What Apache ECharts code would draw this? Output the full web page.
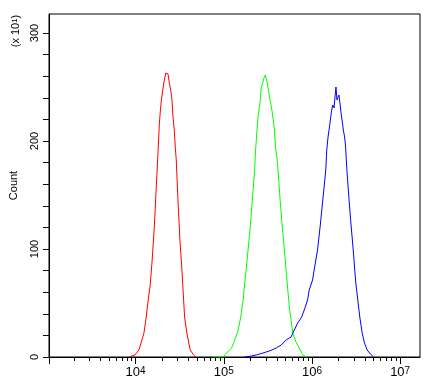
<!DOCTYPE html>
<html>
<head>
<meta charset="utf-8">
<script src="https://cdn.jsdelivr.net/npm/echarts@6/dist/echarts.min.js"></script>
<style>html,body{margin:0;padding:0;background:#fff}#c{width:439px;height:387px}</style>
</head>
<body>
<div id="c"></div>
<script>
// Fluorescence intensity (x, log scale) and counts (y, in units of 10^1)
const redX = [8430, 9840, 10920, 12430, 13190, 13900, 14640, 15410, 16230, 17540, 18000, 18620, 19110, 19610, 20330, 20870, 21410, 21980, 22730, 23320, 24120, 25010, 25870, 26550, 27460, 28180, 28920, 29220, 30220, 31820, 33520, 35030, 35950, 38160, 41570, 45390, 48180];
const redY = [0, 1.9, 6.5, 22.2, 37, 52.8, 66.7, 89.8, 117.6, 173.1, 191.7, 216.7, 228.7, 238, 247.2, 253.7, 258.3, 263, 263.9, 262, 253.7, 247.2, 238, 222.2, 210.2, 194.4, 182.4, 173.1, 145.4, 108.3, 80.6, 52.8, 37, 22.2, 6.5, 1.9, 0];

const greenX = [76180, 98720, 107500, 122400, 133300, 145600, 155700, 165700, 172700, 180500, 188600, 200200, 210900, 223700, 229600, 238100, 244300, 250700, 259300, 266100, 278100, 285400, 295200, 303000, 310900, 321600, 330000, 338700, 351200, 363300, 375700, 385600, 399800, 410300, 435500, 458600, 486800, 508700, 531600, 554100, 579000, 605000, 659200, 717800, 784100, 876200];
const greenY = [0, 0, 3.7, 8.3, 15.7, 25, 37, 52.8, 68.5, 83.3, 99.1, 122.2, 145.4, 173.1, 191.7, 210.2, 222.2, 228.7, 238, 250, 254.6, 258.3, 261.1, 262, 253.7, 247.2, 239.8, 236.1, 228.7, 219.4, 210.2, 194.4, 185.2, 175, 145.4, 122.2, 99.1, 80.6, 62, 46.3, 34.3, 22.2, 13.9, 8.3, 1.9, 0];

const blueX = [172700, 205500, 233900, 278100, 330000, 392600, 446900, 508700, 579000, 630600, 688700, 763800, 816900, 892400, 930000, 1016000, 1058000, 1106000, 1156000, 1243000, 1327000, 1434000, 1471000, 1522000, 1578000, 1632000, 1675000, 1719000, 1778000, 1824000, 1872000, 1921000, 1971000, 2023000, 2076000, 2130000, 2209000, 2267000, 2345000, 2407000, 2451000, 2489000, 2635000, 2775000, 2937000, 3038000, 3142000, 3309000, 3485000, 3709000, 3937000, 4222000, 4598000, 5008000];
const blueY = [0, 0.9, 1.9, 3.7, 5.6, 8.3, 11.1, 15.7, 18.5, 25, 31.5, 37, 43.5, 52.8, 62, 71.3, 80.6, 89.8, 99.1, 122.2, 145.4, 173.1, 191.7, 203.7, 213, 222.2, 228.7, 233.3, 230.6, 240.7, 250, 238, 240.7, 242.6, 235.2, 226.9, 217.6, 210.2, 203.7, 194.4, 182.4, 173.1, 145.4, 122.2, 99.1, 83.3, 68.5, 52.8, 37, 22.2, 13, 6.5, 2.8, 0];

const xMin = 1042, xMax = 16790000;
const xMajorTicks = [1042, 1e4, 1e5, 1e6, 1e7];
const xLabelValues = [1e4, 1e5, 1e6, 1e7];
const xMinorTicks = [2e3,3e3,4e3,5e3,6e3,7e3,8e3,9e3, 2e4,3e4,4e4,5e4,6e4,7e4,8e4,9e4, 2e5,3e5,4e5,5e5,6e5,7e5,8e5,9e5, 2e6,3e6,4e6,5e6,6e6,7e6,8e6,9e6];
const yMin = 0, yMax = 317.6;
const yTicks = [0,20,40,60,80,100,120,140,160,180,200,220,240,260,280,300];
const yLabels = [0, 100, 200, 300];

const zip = (xs, ys) => xs.map((x, i) => [x, ys[i]]);
const font = '"Liberation Sans", Arial, sans-serif';

const chart = echarts.init(document.getElementById('c'), null, {renderer: 'canvas'});
chart.setOption({
  animation: false,
  backgroundColor: '#fff',
  grid: {left: 46, top: 14, right: 19, bottom: 30, show: true, borderColor: '#000', borderWidth: 1, backgroundColor: 'transparent'},
  xAxis: [{
    type: 'log', logBase: 10, min: xMin, max: xMax, position: 'bottom',
    axisLine: {show: true, lineStyle: {color: '#000', width: 1}},
    axisTick: {show: true, length: 7, customValues: xMajorTicks, lineStyle: {color: '#000'}},
    axisLabel: {
      show: true, customValues: xLabelValues, margin: 9, color: '#000', fontFamily: font,
      formatter: v => '{b|10}{s|' + Math.round(Math.log10(v)) + '}',
      rich: {b: {fontSize: 13, fontFamily: font, color: '#000'}, s: {fontSize: 10, fontFamily: font, color: '#000', verticalAlign: 'top'}}
    },
    splitLine: {show: false}, minorTick: {show: false}
  }, {
    type: 'log', logBase: 10, min: xMin, max: xMax, position: 'bottom',
    axisLine: {show: false},
    axisTick: {show: true, length: 4, customValues: xMinorTicks, lineStyle: {color: '#000'}},
    axisLabel: {show: false},
    splitLine: {show: false}
  }],
  yAxis: {
    type: 'value', min: yMin, max: yMax,
    name: 'Count', nameLocation: 'middle', nameGap: 30,
    nameTextStyle: {fontSize: 11, fontFamily: font, color: '#000'},
    axisLine: {show: true, lineStyle: {color: '#000', width: 1}},
    axisTick: {show: true, length: 6, customValues: yTicks, lineStyle: {color: '#000'}},
    axisLabel: {show: true, customValues: yLabels, rotate: 90, margin: 9, fontSize: 11, fontFamily: font, color: '#000'},
    splitLine: {show: false}
  },
  graphic: [{
    type: 'text', x: 16, y: 31, rotation: Math.PI / 2,
    style: {
      text: '(x 10{s|1})', fontSize: 11, fontFamily: font, fill: '#000',
      align: 'center', verticalAlign: 'middle',
      rich: {s: {fontSize: 8, fontFamily: font, fill: '#000', verticalAlign: 'top'}}
    }
  }],
  series: [
    {type: 'line', data: zip(redX, redY), showSymbol: false, lineStyle: {color: '#ff0000', width: 1}, itemStyle: {color: '#ff0000'}},
    {type: 'line', data: zip(greenX, greenY), showSymbol: false, lineStyle: {color: '#00ff00', width: 1}, itemStyle: {color: '#00ff00'}},
    {type: 'line', data: zip(blueX, blueY), showSymbol: false, lineStyle: {color: '#0000ff', width: 1}, itemStyle: {color: '#0000ff'}}
  ]
});
</script>
</body>
</html>
